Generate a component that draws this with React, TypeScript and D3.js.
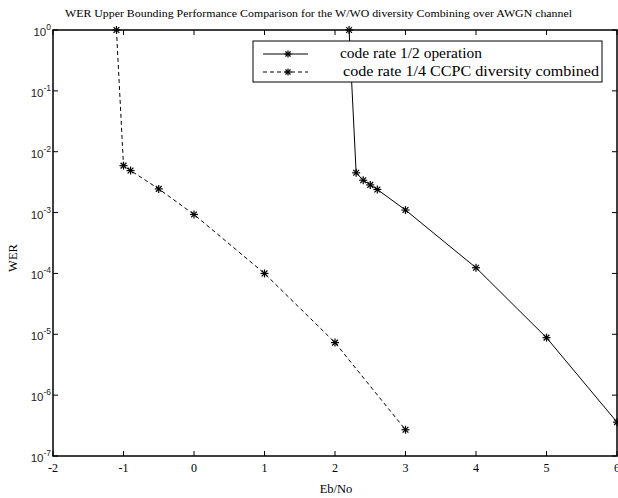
import React from "react";
import * as d3 from "d3";

const titleText = "WER Upper Bounding Performance Comparison for the W/WO diversity Combining over AWGN channel";
const xTicks = [-2, -1, 0, 1, 2, 3, 4, 5, 6];
const yExponents = [0, -1, -2, -3, -4, -5, -6, -7];

const rateHalfEbNo = [2.2, 2.3, 2.4, 2.5, 2.6, 3, 4, 5, 6];
const rateHalfWER = [1.0, 4.5e-3, 3.4e-3, 2.85e-3, 2.4e-3, 1.1e-3, 1.24e-4, 8.8e-6, 3.6e-7];

const rateQuarterEbNo = [-1.1, -1.0, -0.9, -0.5, 0, 1, 2, 3];
const rateQuarterWER = [1.0, 5.9e-3, 4.9e-3, 2.45e-3, 9.3e-4, 1.0e-4, 7.3e-6, 2.7e-7];

const legendLabels = ["code rate 1/2 operation", "code rate 1/4 CCPC diversity combined"];

const W = 618, H = 498;
const left = 53, right = 617, top = 30, bottom = 456;

function Star({ x, y, s = 4 }: { x: number; y: number; s?: number }) {
  const d = s * 0.72;
  return (
    <g stroke="#000" strokeWidth={1.2}>
      <line x1={x - s} y1={y} x2={x + s} y2={y} />
      <line x1={x} y1={y - s} x2={x} y2={y + s} />
      <line x1={x - d} y1={y - d} x2={x + d} y2={y + d} />
      <line x1={x - d} y1={y + d} x2={x + d} y2={y - d} />
    </g>
  );
}

export default function App() {
  const x = d3.scaleLinear().domain([-2, 6]).range([left, right]);
  const y = d3.scaleLog().domain([1e-7, 1]).range([bottom, top]);
  const line = d3.line<[number, number]>().x((d) => x(d[0])).y((d) => y(d[1]));
  const half: [number, number][] = rateHalfEbNo.map((v, i) => [v, rateHalfWER[i]]);
  const quarter: [number, number][] = rateQuarterEbNo.map((v, i) => [v, rateQuarterWER[i]]);
  const tl = 5;
  const serif = "'Liberation Serif', 'Times New Roman', serif";
  const sans = "'Liberation Sans', Arial, sans-serif";

  return (
    <svg width={W} height={H} style={{ position: "absolute", left: 0, top: 0, background: "#fff" }}>
      <rect width={W} height={H} fill="#fff" />
      <text x={65} y={17} fontFamily={serif} fontSize={11} textLength={507} lengthAdjust="spacingAndGlyphs">{titleText}</text>

      {/* data */}
      <path d={line(quarter) || ""} fill="none" stroke="#000" strokeWidth={1} strokeDasharray="4,3" />
      <path d={line(half) || ""} fill="none" stroke="#000" strokeWidth={1} />
      {quarter.map((d, i) => <Star key={"q" + i} x={x(d[0])} y={y(d[1])} />)}
      {half.map((d, i) => <Star key={"h" + i} x={x(d[0])} y={y(d[1])} />)}

      {/* axes box */}
      <rect x={left} y={top} width={right - left} height={bottom - top} fill="none" stroke="#000" strokeWidth={1.5} />
      {xTicks.map((t) => (
        <g key={"xt" + t}>
          <line x1={x(t)} x2={x(t)} y1={bottom} y2={bottom - tl} stroke="#000" strokeWidth={1} />
          <line x1={x(t)} x2={x(t)} y1={top} y2={top + tl} stroke="#000" strokeWidth={1} />
          <text x={x(t)} y={bottom + 16} textAnchor="middle" fontFamily={serif} fontSize={12}>{t}</text>
        </g>
      ))}
      {yExponents.map((e) => (
        <g key={"yt" + e}>
          <line x1={left} x2={left + tl} y1={y(Math.pow(10, e))} y2={y(Math.pow(10, e))} stroke="#000" strokeWidth={1} />
          <line x1={right} x2={right - tl} y1={y(Math.pow(10, e))} y2={y(Math.pow(10, e))} stroke="#000" strokeWidth={1} />
          <text x={51} y={y(Math.pow(10, e)) + 6} textAnchor="end" fontFamily={sans} fontSize={11.5} fill="#222">
            10
            <tspan dy={-6} fontSize={8.5}>{e}</tspan>
          </text>
        </g>
      ))}
      <text x={336} y={493} textAnchor="middle" fontFamily={serif} fontSize={12.5}>Eb/No</text>
      <text transform={`translate(17,258) rotate(-90)`} textAnchor="middle" fontFamily={serif} fontSize={12.5}>WER</text>

      {/* legend */}
      <rect x={253} y={41} width={349} height={41} fill="#fff" stroke="#000" strokeWidth={1} />
      <line x1={263} x2={308} y1={54} y2={54} stroke="#000" strokeWidth={1} />
      <Star x={288} y={54} s={3.5} />
      <line x1={263} x2={308} y1={72} y2={72} stroke="#000" strokeWidth={1} strokeDasharray="4,3" />
      <Star x={288} y={72} s={3.5} />
      <text x={340} y={58} fontFamily={serif} fontSize={15.5} textLength={142} lengthAdjust="spacingAndGlyphs">{legendLabels[0]}</text>
      <text x={343} y={76} fontFamily={serif} fontSize={15.5} textLength={256} lengthAdjust="spacingAndGlyphs">{legendLabels[1]}</text>
    </svg>
  );
}
